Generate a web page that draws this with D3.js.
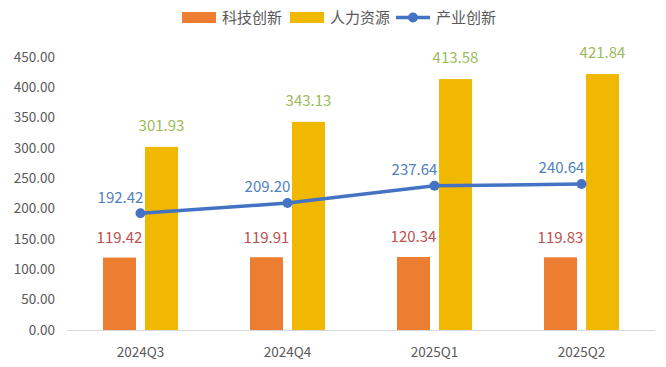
<!DOCTYPE html>
<html><head><meta charset="utf-8">
<script src="https://cdn.jsdelivr.net/npm/d3@7"></script>
<style>body{margin:0;background:#fff}svg{display:block}text{font-family:"Noto Sans CJK SC","Noto Sans",sans-serif}</style>
</head><body><svg id="c" width="666" height="367"></svg>
<script>
const categories = ["2024Q3","2024Q4","2025Q1","2025Q2"];
const techValues = [119.42,119.91,120.34,119.83];
const hrValues = [301.93,343.13,413.58,421.84];
const industryValues = [192.42,209.20,237.64,240.64];
const yTicks = [0,50,100,150,200,250,300,350,400,450];
const seriesNames = ["科技创新","人力资源","产业创新"];

(function(){
const svg = d3.select("#c");
const mL = 67, mR = 655, mT = 57, mB = 330;
const x = d3.scaleBand().domain(categories).range([mL,mR]);
const y = d3.scaleLinear().domain([0,450]).range([mB,mT]);
const cOrange = "#ED7D31", cGold = "#F0B800", cBlue = "#4472C4";
const barW = 33, off = 21;

svg.append("g").selectAll("text").data(yTicks).join("text")
  .attr("x",55).attr("y",d=>y(d)).attr("dy","0.35em").attr("text-anchor","end")
  .attr("font-size",13.5).attr("fill","#595959").text(d=>d.toFixed(2));
svg.append("line").attr("x1",mL).attr("x2",mR).attr("y1",mB+0.5).attr("y2",mB+0.5)
  .attr("stroke","#d9d9d9").attr("stroke-width",1);
svg.append("g").selectAll("text").data(categories).join("text")
  .attr("x",d=>x(d)+x.bandwidth()/2).attr("y",352).attr("dy","0.35em").attr("text-anchor","middle")
  .attr("font-size",13.5).attr("fill","#595959").text(d=>d);

const cx = d=>x(d)+x.bandwidth()/2;
svg.append("g").selectAll("rect").data(categories).join("rect")
  .attr("x",d=>cx(d)-off-barW/2).attr("width",barW)
  .attr("y",(d,i)=>y(techValues[i])).attr("height",(d,i)=>mB-y(techValues[i])).attr("fill",cOrange);
svg.append("g").selectAll("rect").data(categories).join("rect")
  .attr("x",d=>cx(d)+off-barW/2).attr("width",barW)
  .attr("y",(d,i)=>y(hrValues[i])).attr("height",(d,i)=>mB-y(hrValues[i])).attr("fill",cGold);
const line = d3.line().x((d,i)=>cx(categories[i])).y(d=>y(d));
svg.append("path").datum(industryValues).attr("d",line).attr("fill","none")
  .attr("stroke",cBlue).attr("stroke-width",3.5).attr("stroke-linecap","round");
svg.append("g").selectAll("circle").data(industryValues).join("circle")
  .attr("cx",(d,i)=>cx(categories[i])).attr("cy",d=>y(d)).attr("r",5).attr("fill",cBlue);

svg.append("g").selectAll("text").data(techValues).join("text")
  .attr("x",(d,i)=>cx(categories[i])-off).attr("y",d=>y(d)-20).attr("dy","0.35em")
  .attr("text-anchor","middle").attr("font-size",15).attr("fill","#C0504D").text(d=>d.toFixed(2));
svg.append("g").selectAll("text").data(hrValues).join("text")
  .attr("x",(d,i)=>cx(categories[i])+off).attr("y",d=>y(d)-21).attr("dy","0.35em")
  .attr("text-anchor","middle").attr("font-size",15).attr("fill","#9BBB59").text(d=>d.toFixed(2));
svg.append("g").selectAll("text").data(industryValues).join("text")
  .attr("x",(d,i)=>cx(categories[i])-20).attr("y",d=>y(d)-16).attr("dy","0.35em")
  .attr("text-anchor","middle").attr("font-size",15).attr("fill","#4F81BD").text(d=>d.toFixed(2));

const lg = svg.append("g");
lg.append("rect").attr("x",182).attr("y",12).attr("width",34).attr("height",11).attr("fill",cOrange);
lg.append("text").attr("x",222).attr("y",18).attr("dy","0.35em").attr("font-size",15).attr("fill","#595959").text(seriesNames[0]);
lg.append("rect").attr("x",290).attr("y",12).attr("width",34).attr("height",11).attr("fill",cGold);
lg.append("text").attr("x",330).attr("y",18).attr("dy","0.35em").attr("font-size",15).attr("fill","#595959").text(seriesNames[1]);
lg.append("line").attr("x1",396).attr("x2",430).attr("y1",17.5).attr("y2",17.5).attr("stroke",cBlue).attr("stroke-width",3.5);
lg.append("circle").attr("cx",413).attr("cy",17.5).attr("r",5).attr("fill",cBlue);
lg.append("text").attr("x",436).attr("y",18).attr("dy","0.35em").attr("font-size",15).attr("fill","#595959").text(seriesNames[2]);
})();
</script></body></html>
